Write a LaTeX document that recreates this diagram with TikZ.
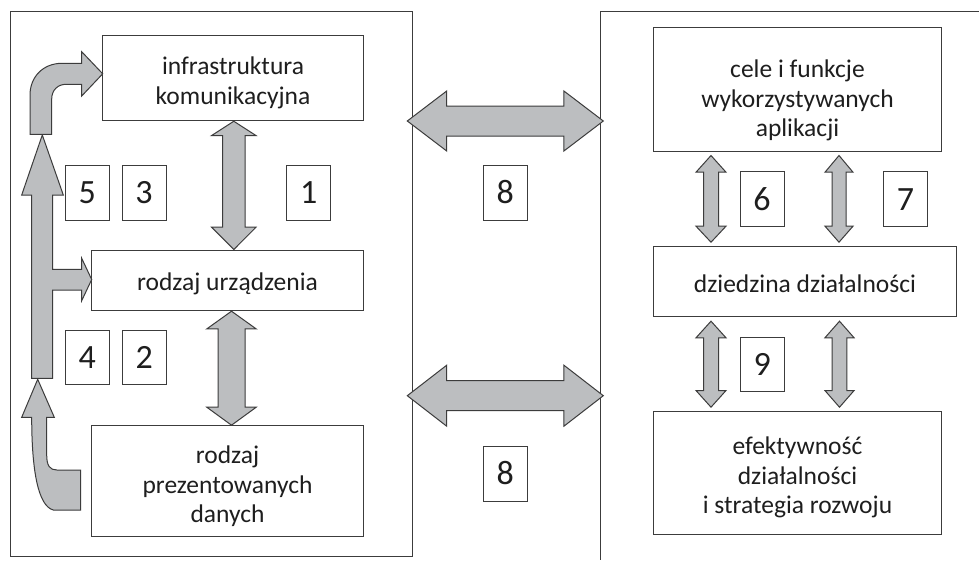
\documentclass[tikz,border=0pt]{standalone}
\usepackage{fontspec}
\setmainfont{Carlito}
\usetikzlibrary{calc}
\definecolor{arrowfill}{HTML}{BCBEC0}
\definecolor{edge}{HTML}{3C3C3C}
\definecolor{txt}{HTML}{1E1E1E}
\tikzset{
  textbox/.style={draw=edge, line width=1pt, fill=white, inner sep=0pt},
  boxtext/.style={inner sep=0pt, align=center, font=\fontsize{25.5}{29.5}\selectfont, text=txt},
  numbox/.style={draw=edge, line width=1pt, fill=white, inner sep=0pt,
    minimum width=44pt, minimum height=55pt, font=\fontsize{34}{40}\selectfont, text=txt},
  frameline/.style={draw=edge, line width=1pt},
  blk/.style={draw=edge, line width=1pt, fill=arrowfill, line join=miter},
}
% vertical double block arrow: top point, bottom point, shaft half, head half, top head len, bottom head len
\newcommand\VArrow[6]{%
  \draw[blk] let \p1=(#1), \p2=(#2) in
    (\x1,\y1) -- (\x1+#4pt,\y1-#5pt) -- (\x1+#3pt,\y1-#5pt) -- (\x1+#3pt,\y2+#6pt)
    -- (\x1+#4pt,\y2+#6pt) -- (\x1,\y2) -- (\x1-#4pt,\y2+#6pt) -- (\x1-#3pt,\y2+#6pt)
    -- (\x1-#3pt,\y1-#5pt) -- (\x1-#4pt,\y1-#5pt) -- cycle;}
% horizontal double block arrow: left point, right point, shaft half, head half, head len
\newcommand\HArrow[5]{%
  \draw[blk] let \p1=(#1), \p2=(#2) in
    (\x1,\y1) -- (\x1+#5pt,\y1+#4pt) -- (\x1+#5pt,\y1+#3pt) -- (\x2-#5pt,\y1+#3pt)
    -- (\x2-#5pt,\y1+#4pt) -- (\x2,\y1) -- (\x2-#5pt,\y1-#4pt) -- (\x2-#5pt,\y1-#3pt)
    -- (\x1+#5pt,\y1-#3pt) -- (\x1+#5pt,\y1-#4pt) -- cycle;}
\begin{document}
\begin{tikzpicture}[x=1pt,y=-1pt]
\useasboundingbox[fill=white] (0,0) rectangle (979,560);

% frames
\node[frameline, inner sep=0pt, minimum width=402pt, minimum height=544.3pt] (lframe) at (211.7,283.85) {};
\draw[frameline] (979,11.7) -| (600,560);

% left column boxes
\node[textbox, minimum width=260.6pt, minimum height=84.3pt] (infra) at (233,77.9) {};
\node[boxtext] (infraT) at ($(infra.center)+(0,5)$) {infrastruktura\\komunikacyjna};
\node[textbox, minimum width=271.6pt, minimum height=59.3pt] (urz) at (227.5,280.35) {};
\node[boxtext] (urzT) at ($(urz.center)+(0,3.5)$) {rodzaj urządzenia};
\node[textbox, minimum width=271.6pt, minimum height=111pt] (prez) at (227.5,481.2) {};
\node[boxtext] (prezT) at ($(prez.center)+(0,5)$) {rodzaj\\prezentowanych\\danych};

% right column boxes
\node[textbox, minimum width=288.4pt, minimum height=124.4pt] (cele) at (797.5,89.5) {};
\node[boxtext] (celeT) at ($(cele.center)+(0,11)$) {cele i funkcje\\wykorzystywanych\\aplikacji};
\node[textbox, minimum width=303.4pt, minimum height=69.3pt] (dzied) at (805,281.35) {};
\node[boxtext] (dziedT) at ($(dzied.center)+(0,2)$) {dziedzina działalności};
\node[textbox, minimum width=288.4pt, minimum height=123pt] (efekt) at (797.5,472.5) {};
\node[boxtext] (efektT) at ($(efekt.center)+(0,5)$) {efektywność\\działalności\\i strategia rozwoju};

% number boxes
\node[numbox] (n5) at (87.3,192.9) {5};
\node[numbox] (n3) at (144,192.9) {3};
\node[numbox] (n1) at (308.8,192.9) {1};
\node[numbox, minimum height=53.6pt] (n4) at (87.3,357.5) {4};
\node[numbox, minimum height=53.6pt] (n2) at (144.3,357.5) {2};
\node[numbox] (n8a) at (505.3,192.5) {8};
\node[numbox] (n8b) at (505.3,473.5) {8};
\node[numbox] (n6) at (762,199.2) {6};
\node[numbox] (n7) at (905.5,199.2) {7};
\node[numbox, minimum height=53.7pt] (n9) at (762.2,364.2) {9};

% vertical double arrows, left
\VArrow{$(infra.south)+(0.8,0.7)$}{$(urz.north)+(0,-0.7)$}{11.2}{22.2}{14.3}{22.3}
\VArrow{$(urz.south)+(4,0.7)$}{$(prez.north)+(0,0)$}{13.5}{24.7}{17.7}{18}

% vertical double arrows, right
\VArrow{$(cele.south)+(-86.5,3.3)$}{$(dzied.north)+(0,-4)$}{7.5}{15}{16.7}{16}
\VArrow{$(cele.south)+(41.5,3.3)$}{$(dzied.north)+(0,-4)$}{7}{14}{16.7}{16}
\VArrow{$(dzied.south)+(-94,4.7)$}{$(efekt.north)+(0,-3.3)$}{7.5}{15}{16.6}{16.7}
\VArrow{$(dzied.south)+(34.5,4.7)$}{$(efekt.north)+(0,-3.3)$}{7.3}{14.6}{16.6}{16.7}

% horizontal double arrows between frames
\coordinate (hL1) at (407.3,121);
\coordinate (hR1) at (603.3,121);
\coordinate (hL2) at (407.3,395.7);
\coordinate (hR2) at (603.3,395.7);
\HArrow{hL1}{hR1}{15}{30}{39.4}
\HArrow{hL2}{hR2}{15}{30.5}{39.4}

% left feedback arrows
\draw[blk] (31.7,378.3) -- (31.7,195) -- (21.7,195) -- (42.3,135) -- (63.3,195) -- (52.7,195)
  -- (52.7,269.3) -- (81.7,269.3) -- (81.7,258.3) -- (91.7,279.5) -- (81.7,300.7) -- (81.7,290)
  -- (52.7,290) -- (52.7,378.3) -- cycle;
\draw[blk] (30,134.3) -- (30,95) .. controls (30,77) and (43,63.3) .. (62,63.3) -- (81.7,63.3)
  -- (81.7,51.7) -- (102.7,73.8) -- (81.7,96) -- (81.7,84.3) -- (66,84.3)
  .. controls (58,84.3) and (51.7,90) .. (51.7,99) -- (51.7,134.3) -- cycle;
\draw[blk] (80.7,510) -- (53.3,510) .. controls (38,506) and (31.7,470) .. (31.7,417.3)
  -- (21.7,417.3) -- (37.7,379.3) -- (54.3,417.3) -- (46.7,417.3) -- (46.7,455)
  .. controls (46.7,466) and (50,470) .. (57,470) -- (80.7,470) -- cycle;
\end{tikzpicture}
\end{document}
